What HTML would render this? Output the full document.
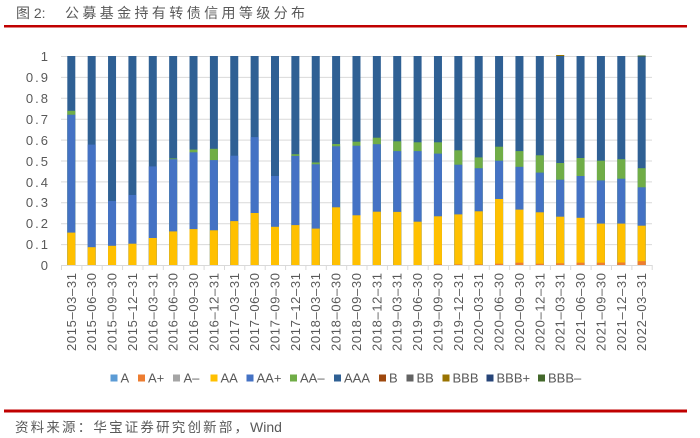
<!DOCTYPE html>
<html><head><meta charset="utf-8"><style>
html,body{margin:0;padding:0;background:#fff;}
svg{display:block;}
text{font-family:"Liberation Sans","Noto Sans CJK SC",sans-serif;fill:#595959;}
</style></head><body>
<svg width="700" height="438" viewBox="0 0 700 438" xmlns="http://www.w3.org/2000/svg">
<rect width="700" height="438" fill="#fff"/>
<!-- title -->
<text x="16" y="18" font-size="14" fill="#555">图 2:</text>
<text x="65" y="18" font-size="14" fill="#555" textLength="240" lengthAdjust="spacing">公募基金持有转债信用等级分布</text>
<rect x="4" y="25" width="683" height="2.5" fill="#c00000"/>
<!-- gridlines -->
<g stroke="#d9d9d9" stroke-width="1">
<line x1="61" y1="56.5" x2="652" y2="56.5"/>
<line x1="61" y1="77.4" x2="652" y2="77.4"/>
<line x1="61" y1="98.3" x2="652" y2="98.3"/>
<line x1="61" y1="119.2" x2="652" y2="119.2"/>
<line x1="61" y1="140.1" x2="652" y2="140.1"/>
<line x1="61" y1="161" x2="652" y2="161"/>
<line x1="61" y1="181.9" x2="652" y2="181.9"/>
<line x1="61" y1="202.8" x2="652" y2="202.8"/>
<line x1="61" y1="223.7" x2="652" y2="223.7"/>
<line x1="61" y1="244.6" x2="652" y2="244.6"/>
</g>
<!-- y labels -->
<g font-size="13" text-anchor="end" letter-spacing="2">
<text x="50" y="61">1</text>
<text x="50" y="82">0.9</text>
<text x="50" y="103">0.8</text>
<text x="50" y="124">0.7</text>
<text x="50" y="145">0.6</text>
<text x="50" y="166">0.5</text>
<text x="50" y="187">0.4</text>
<text x="50" y="207">0.3</text>
<text x="50" y="228">0.2</text>
<text x="50" y="249">0.1</text>
<text x="50" y="270">0</text>
</g>
<!-- bars -->
<g>
<rect x="67.3" y="56" width="8" height="209" fill="#2f6094"/><rect x="67.3" y="110.8" width="8" height="154.2" fill="#70ad47"/><rect x="67.3" y="114.7" width="8" height="150.3" fill="#4472c4"/><rect x="67.3" y="232.6" width="8" height="32.4" fill="#ffc000"/>
<rect x="87.67" y="56" width="8" height="209" fill="#2f6094"/><rect x="87.67" y="144.6" width="8" height="120.4" fill="#4472c4"/><rect x="87.67" y="247.2" width="8" height="17.8" fill="#ffc000"/>
<rect x="108.04" y="56" width="8" height="209" fill="#2f6094"/><rect x="108.04" y="201" width="8" height="64" fill="#4472c4"/><rect x="108.04" y="245.8" width="8" height="19.2" fill="#ffc000"/>
<rect x="128.41" y="56" width="8" height="209" fill="#2f6094"/><rect x="128.41" y="195" width="8" height="70" fill="#4472c4"/><rect x="128.41" y="243.7" width="8" height="21.3" fill="#ffc000"/>
<rect x="148.78" y="56" width="8" height="209" fill="#2f6094"/><rect x="148.78" y="166.4" width="8" height="98.6" fill="#4472c4"/><rect x="148.78" y="238" width="8" height="27" fill="#ffc000"/>
<rect x="169.15" y="56" width="8" height="209" fill="#2f6094"/><rect x="169.15" y="158.4" width="8" height="106.6" fill="#70ad47"/><rect x="169.15" y="159.2" width="8" height="105.8" fill="#4472c4"/><rect x="169.15" y="231.4" width="8" height="33.6" fill="#ffc000"/>
<rect x="189.52" y="56" width="8" height="209" fill="#2f6094"/><rect x="189.52" y="149.6" width="8" height="115.4" fill="#70ad47"/><rect x="189.52" y="152.3" width="8" height="112.7" fill="#4472c4"/><rect x="189.52" y="229.1" width="8" height="35.9" fill="#ffc000"/>
<rect x="209.89" y="56" width="8" height="209" fill="#2f6094"/><rect x="209.89" y="148.8" width="8" height="116.2" fill="#70ad47"/><rect x="209.89" y="160.1" width="8" height="104.9" fill="#4472c4"/><rect x="209.89" y="230.3" width="8" height="34.7" fill="#ffc000"/>
<rect x="230.26" y="56" width="8" height="209" fill="#2f6094"/><rect x="230.26" y="155.7" width="8" height="109.3" fill="#4472c4"/><rect x="230.26" y="221.1" width="8" height="43.9" fill="#ffc000"/>
<rect x="250.63" y="56" width="8" height="209" fill="#2f6094"/><rect x="250.63" y="137.1" width="8" height="127.9" fill="#4472c4"/><rect x="250.63" y="213" width="8" height="52" fill="#ffc000"/>
<rect x="271" y="56" width="8" height="209" fill="#2f6094"/><rect x="271" y="176" width="8" height="89" fill="#4472c4"/><rect x="271" y="226.8" width="8" height="38.2" fill="#ffc000"/>
<rect x="291.37" y="56" width="8" height="209" fill="#2f6094"/><rect x="291.37" y="154.2" width="8" height="110.8" fill="#70ad47"/><rect x="291.37" y="155.9" width="8" height="109.1" fill="#4472c4"/><rect x="291.37" y="225.1" width="8" height="39.9" fill="#ffc000"/>
<rect x="311.74" y="56" width="8" height="209" fill="#2f6094"/><rect x="311.74" y="162.4" width="8" height="102.6" fill="#70ad47"/><rect x="311.74" y="164.3" width="8" height="100.7" fill="#4472c4"/><rect x="311.74" y="228.6" width="8" height="36.4" fill="#ffc000"/>
<rect x="332.11" y="56" width="8" height="209" fill="#2f6094"/><rect x="332.11" y="144" width="8" height="121" fill="#70ad47"/><rect x="332.11" y="146.3" width="8" height="118.7" fill="#4472c4"/><rect x="332.11" y="207.3" width="8" height="57.7" fill="#ffc000"/>
<rect x="352.48" y="56" width="8" height="209" fill="#2f6094"/><rect x="352.48" y="141.7" width="8" height="123.3" fill="#70ad47"/><rect x="352.48" y="145.7" width="8" height="119.3" fill="#4472c4"/><rect x="352.48" y="215.3" width="8" height="49.7" fill="#ffc000"/>
<rect x="372.85" y="56" width="8" height="209" fill="#2f6094"/><rect x="372.85" y="137.7" width="8" height="127.3" fill="#70ad47"/><rect x="372.85" y="144.2" width="8" height="120.8" fill="#4472c4"/><rect x="372.85" y="211.7" width="8" height="53.3" fill="#ffc000"/>
<rect x="393.22" y="56" width="8" height="209" fill="#2f6094"/><rect x="393.22" y="141.3" width="8" height="123.7" fill="#70ad47"/><rect x="393.22" y="151.1" width="8" height="113.9" fill="#4472c4"/><rect x="393.22" y="211.9" width="8" height="53.1" fill="#ffc000"/>
<rect x="413.59" y="56" width="8" height="209" fill="#2f6094"/><rect x="413.59" y="142.3" width="8" height="122.7" fill="#70ad47"/><rect x="413.59" y="151.1" width="8" height="113.9" fill="#4472c4"/><rect x="413.59" y="221.7" width="8" height="43.3" fill="#ffc000"/>
<rect x="433.96" y="56" width="8" height="209" fill="#2f6094"/><rect x="433.96" y="142.3" width="8" height="122.7" fill="#70ad47"/><rect x="433.96" y="153.6" width="8" height="111.4" fill="#4472c4"/><rect x="433.96" y="216.3" width="8" height="48.7" fill="#ffc000"/><rect x="433.96" y="264.4" width="8" height="0.6" fill="#ed7d31"/>
<rect x="454.33" y="56" width="8" height="209" fill="#2f6094"/><rect x="454.33" y="150.3" width="8" height="114.7" fill="#70ad47"/><rect x="454.33" y="164.7" width="8" height="100.3" fill="#4472c4"/><rect x="454.33" y="214.4" width="8" height="50.6" fill="#ffc000"/><rect x="454.33" y="264.4" width="8" height="0.6" fill="#ed7d31"/>
<rect x="474.7" y="56" width="8" height="209" fill="#2f6094"/><rect x="474.7" y="157.4" width="8" height="107.6" fill="#70ad47"/><rect x="474.7" y="168.2" width="8" height="96.8" fill="#4472c4"/><rect x="474.7" y="211.3" width="8" height="53.7" fill="#ffc000"/><rect x="474.7" y="264.4" width="8" height="0.6" fill="#ed7d31"/>
<rect x="495.07" y="56" width="8" height="209" fill="#2f6094"/><rect x="495.07" y="146.7" width="8" height="118.3" fill="#70ad47"/><rect x="495.07" y="160.7" width="8" height="104.3" fill="#4472c4"/><rect x="495.07" y="199" width="8" height="66" fill="#ffc000"/><rect x="495.07" y="263.7" width="8" height="1.3" fill="#ed7d31"/>
<rect x="515.44" y="56" width="8" height="209" fill="#2f6094"/><rect x="515.44" y="151.1" width="8" height="113.9" fill="#70ad47"/><rect x="515.44" y="166.8" width="8" height="98.2" fill="#4472c4"/><rect x="515.44" y="209.6" width="8" height="55.4" fill="#ffc000"/><rect x="515.44" y="262.7" width="8" height="2.3" fill="#ed7d31"/>
<rect x="535.81" y="56" width="8" height="209" fill="#2f6094"/><rect x="535.81" y="155.3" width="8" height="109.7" fill="#70ad47"/><rect x="535.81" y="172.6" width="8" height="92.4" fill="#4472c4"/><rect x="535.81" y="212.3" width="8" height="52.7" fill="#ffc000"/><rect x="535.81" y="263.7" width="8" height="1.3" fill="#ed7d31"/>
<rect x="556.18" y="55.4" width="8" height="209.6" fill="#2f6094"/><rect x="556.18" y="55" width="8" height="1" fill="#997300"/><rect x="556.18" y="163" width="8" height="102" fill="#70ad47"/><rect x="556.18" y="179.7" width="8" height="85.3" fill="#4472c4"/><rect x="556.18" y="216.7" width="8" height="48.3" fill="#ffc000"/><rect x="556.18" y="263.3" width="8" height="1.7" fill="#ed7d31"/>
<rect x="576.55" y="56" width="8" height="209" fill="#2f6094"/><rect x="576.55" y="158" width="8" height="107" fill="#70ad47"/><rect x="576.55" y="176" width="8" height="89" fill="#4472c4"/><rect x="576.55" y="217.8" width="8" height="47.2" fill="#ffc000"/><rect x="576.55" y="262.7" width="8" height="2.3" fill="#ed7d31"/>
<rect x="596.92" y="56" width="8" height="209" fill="#2f6094"/><rect x="596.92" y="160.7" width="8" height="104.3" fill="#70ad47"/><rect x="596.92" y="180.4" width="8" height="84.6" fill="#4472c4"/><rect x="596.92" y="223.6" width="8" height="41.4" fill="#ffc000"/><rect x="596.92" y="262.7" width="8" height="2.3" fill="#ed7d31"/>
<rect x="617.29" y="56" width="8" height="209" fill="#2f6094"/><rect x="617.29" y="159.2" width="8" height="105.8" fill="#70ad47"/><rect x="617.29" y="178.7" width="8" height="86.3" fill="#4472c4"/><rect x="617.29" y="223.6" width="8" height="41.4" fill="#ffc000"/><rect x="617.29" y="262.5" width="8" height="2.5" fill="#ed7d31"/>
<rect x="637.66" y="56" width="8" height="209" fill="#2f6094"/><rect x="637.66" y="55.5" width="8" height="1" fill="#43682b"/><rect x="637.66" y="168.2" width="8" height="96.8" fill="#70ad47"/><rect x="637.66" y="187.3" width="8" height="77.7" fill="#4472c4"/><rect x="637.66" y="225.7" width="8" height="39.3" fill="#ffc000"/><rect x="637.66" y="261.2" width="8" height="3.8" fill="#ed7d31"/>
</g>
<!-- axis -->
<line x1="61" y1="265.5" x2="652" y2="265.5" stroke="#d9d9d9" stroke-width="1"/>
<g stroke="#d9d9d9" stroke-width="1">
<line x1="61.5" y1="265" x2="61.5" y2="270"/><line x1="81.9" y1="265" x2="81.9" y2="270"/><line x1="102.2" y1="265" x2="102.2" y2="270"/><line x1="122.6" y1="265" x2="122.6" y2="270"/><line x1="143" y1="265" x2="143" y2="270"/><line x1="163.3" y1="265" x2="163.3" y2="270"/><line x1="183.7" y1="265" x2="183.7" y2="270"/><line x1="204.1" y1="265" x2="204.1" y2="270"/><line x1="224.5" y1="265" x2="224.5" y2="270"/><line x1="244.8" y1="265" x2="244.8" y2="270"/><line x1="265.2" y1="265" x2="265.2" y2="270"/><line x1="285.6" y1="265" x2="285.6" y2="270"/><line x1="305.9" y1="265" x2="305.9" y2="270"/><line x1="326.3" y1="265" x2="326.3" y2="270"/><line x1="346.7" y1="265" x2="346.7" y2="270"/><line x1="367" y1="265" x2="367" y2="270"/><line x1="387.4" y1="265" x2="387.4" y2="270"/><line x1="407.8" y1="265" x2="407.8" y2="270"/><line x1="428.2" y1="265" x2="428.2" y2="270"/><line x1="448.5" y1="265" x2="448.5" y2="270"/><line x1="468.9" y1="265" x2="468.9" y2="270"/><line x1="489.3" y1="265" x2="489.3" y2="270"/><line x1="509.6" y1="265" x2="509.6" y2="270"/><line x1="530" y1="265" x2="530" y2="270"/><line x1="550.4" y1="265" x2="550.4" y2="270"/><line x1="570.7" y1="265" x2="570.7" y2="270"/><line x1="591.1" y1="265" x2="591.1" y2="270"/><line x1="611.5" y1="265" x2="611.5" y2="270"/><line x1="631.9" y1="265" x2="631.9" y2="270"/><line x1="652.2" y1="265" x2="652.2" y2="270"/>
</g>
<!-- x labels -->
<g font-size="13" text-anchor="end">
<text transform="translate(75.8,273) rotate(-90)" textLength="78" lengthAdjust="spacing">2015–03–31</text>
<text transform="translate(96.2,273) rotate(-90)" textLength="78" lengthAdjust="spacing">2015–06–30</text>
<text transform="translate(116.5,273) rotate(-90)" textLength="78" lengthAdjust="spacing">2015–09–30</text>
<text transform="translate(136.9,273) rotate(-90)" textLength="78" lengthAdjust="spacing">2015–12–31</text>
<text transform="translate(157.3,273) rotate(-90)" textLength="78" lengthAdjust="spacing">2016–03–31</text>
<text transform="translate(177.7,273) rotate(-90)" textLength="78" lengthAdjust="spacing">2016–06–30</text>
<text transform="translate(198,273) rotate(-90)" textLength="78" lengthAdjust="spacing">2016–09–30</text>
<text transform="translate(218.4,273) rotate(-90)" textLength="78" lengthAdjust="spacing">2016–12–31</text>
<text transform="translate(238.8,273) rotate(-90)" textLength="78" lengthAdjust="spacing">2017–03–31</text>
<text transform="translate(259.1,273) rotate(-90)" textLength="78" lengthAdjust="spacing">2017–06–30</text>
<text transform="translate(279.5,273) rotate(-90)" textLength="78" lengthAdjust="spacing">2017–09–30</text>
<text transform="translate(299.9,273) rotate(-90)" textLength="78" lengthAdjust="spacing">2017–12–31</text>
<text transform="translate(320.2,273) rotate(-90)" textLength="78" lengthAdjust="spacing">2018–03–31</text>
<text transform="translate(340.6,273) rotate(-90)" textLength="78" lengthAdjust="spacing">2018–06–30</text>
<text transform="translate(361,273) rotate(-90)" textLength="78" lengthAdjust="spacing">2018–09–30</text>
<text transform="translate(381.4,273) rotate(-90)" textLength="78" lengthAdjust="spacing">2018–12–31</text>
<text transform="translate(401.7,273) rotate(-90)" textLength="78" lengthAdjust="spacing">2019–03–31</text>
<text transform="translate(422.1,273) rotate(-90)" textLength="78" lengthAdjust="spacing">2019–06–30</text>
<text transform="translate(442.5,273) rotate(-90)" textLength="78" lengthAdjust="spacing">2019–09–30</text>
<text transform="translate(462.8,273) rotate(-90)" textLength="78" lengthAdjust="spacing">2019–12–31</text>
<text transform="translate(483.2,273) rotate(-90)" textLength="78" lengthAdjust="spacing">2020–03–31</text>
<text transform="translate(503.6,273) rotate(-90)" textLength="78" lengthAdjust="spacing">2020–06–30</text>
<text transform="translate(524,273) rotate(-90)" textLength="78" lengthAdjust="spacing">2020–09–30</text>
<text transform="translate(544.3,273) rotate(-90)" textLength="78" lengthAdjust="spacing">2020–12–31</text>
<text transform="translate(564.7,273) rotate(-90)" textLength="78" lengthAdjust="spacing">2021–03–31</text>
<text transform="translate(585.1,273) rotate(-90)" textLength="78" lengthAdjust="spacing">2021–06–30</text>
<text transform="translate(605.4,273) rotate(-90)" textLength="78" lengthAdjust="spacing">2021–09–30</text>
<text transform="translate(625.8,273) rotate(-90)" textLength="78" lengthAdjust="spacing">2021–12–31</text>
<text transform="translate(646.2,273) rotate(-90)" textLength="78" lengthAdjust="spacing">2022–03–31</text>
</g>
<!-- legend -->
<g font-size="13">
<rect x="110.5" y="374.5" width="7" height="7" fill="#5b9bd5"/><text x="120.5" y="382.5">A</text>
<rect x="138" y="374.5" width="7" height="7" fill="#ed7d31"/><text x="148" y="382.5">A+</text>
<rect x="173" y="374.5" width="7" height="7" fill="#a5a5a5"/><text x="183.5" y="382.5">A–</text>
<rect x="210.5" y="374.5" width="7" height="7" fill="#ffc000"/><text x="220.5" y="382.5">AA</text>
<rect x="246.5" y="374.5" width="7" height="7" fill="#4472c4"/><text x="256.5" y="382.5">AA+</text>
<rect x="290" y="374.5" width="7" height="7" fill="#70ad47"/><text x="300" y="382.5">AA–</text>
<rect x="334" y="374.5" width="7" height="7" fill="#2f6094"/><text x="344" y="382.5">AAA</text>
<rect x="379" y="374.5" width="7" height="7" fill="#9e480e"/><text x="389" y="382.5">B</text>
<rect x="406.5" y="374.5" width="7" height="7" fill="#636363"/><text x="416.5" y="382.5">BB</text>
<rect x="442.5" y="374.5" width="7" height="7" fill="#997300"/><text x="452.5" y="382.5">BBB</text>
<rect x="486.5" y="374.5" width="7" height="7" fill="#264478"/><text x="496.5" y="382.5">BBB+</text>
<rect x="538" y="374.5" width="7" height="7" fill="#43682b"/><text x="548" y="382.5">BBB–</text>
</g>
<!-- footer -->
<rect x="4" y="409.5" width="683" height="3" fill="#c00000"/>
<text x="15" y="432" font-size="13.5" fill="#555" textLength="233" lengthAdjust="spacing">资料来源：华宝证券研究创新部，</text>
<text x="250" y="432" font-size="14" fill="#555">Wind</text>
</svg>
</body></html>
